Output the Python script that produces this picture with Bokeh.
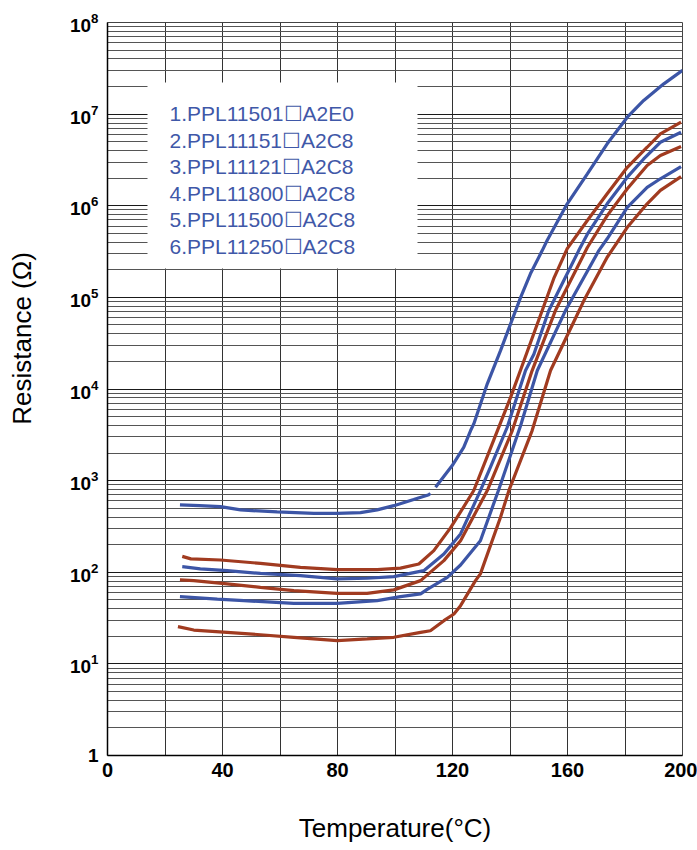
import math
from bokeh.plotting import figure
from bokeh.models import FixedTicker, LogTickFormatter, ColumnDataSource
from bokeh.embed import file_html
from bokeh.resources import INLINE
from bokeh.core.properties import value

nan = float("nan")

# ---------------- data ----------------
legend_labels = ["1.PPL11501\u2610A2E0", "2.PPL11151\u2610A2C8", "3.PPL11121\u2610A2C8",
                 "4.PPL11800\u2610A2C8", "5.PPL11500\u2610A2C8", "6.PPL11250\u2610A2C8"]

x_tick_values = [0, 40, 80, 120, 160, 200]
x_grid_values = [0, 20, 40, 60, 80, 100, 120, 140, 160, 180, 200]
y_tick_values = [1, 10, 100, 1000, 10000, 100000, 1000000, 10000000, 100000000]

t1 = [25.2, 32, 39.3, 46.3, 59, 71.8, 79.9, 88, 93.8, 99.6, 106.5, 111.8, 112.3, nan,
      114.1, 119.9, 123.9, 126.3, 127.4, 132.1, 136.7, 140.2, 143.7, 147.1, 151.2, 152.9,
      159.9, 166.9, 173.8, 180.8, 186.5, 193.5, 200]
r1 = [543, 533, 520, 479, 455, 440, 440, 448, 479, 533, 621, 703, 726, nan,
      845, 1460, 2310, 3520, 4160, 11400, 26200, 51400, 100000, 181000, 324000, 417000,
      1050000, 2230000, 4740000, 9250000, 14100000, 21400000, 30000000]

t2 = [26, 29, 39.3, 53.2, 67.1, 79.9, 93.8, 101.9, 108.3, 113.5, 119.3, 122.8, 127.4,
      134.4, 140.2, 144.5, 151.2, 155.2, 159.9, 166.9, 173.8, 180.8, 187.7, 192.3, 199.5]
r2 = [149, 140, 136, 125, 113, 107, 107, 111, 123, 172, 305, 455, 780,
      2800, 8100, 19000, 72000, 160000, 340000, 690000, 1350000, 2630000, 4350000, 6100000, 8200000]

t3 = [26, 32.3, 41.6, 53.2, 67.1, 79.9, 90.3, 99.6, 110, 117, 122.8, 129.7, 133.2, 139,
      145.4, 148.3, 153.5, 155.2, 163.9, 166.9, 173.8, 180.8, 186.5, 192.3, 199.5]
r3 = [115, 109, 104, 97, 92, 84.5, 86, 89.5, 104, 158, 262, 778, 1400, 3800,
      15900, 24000, 72000, 92000, 324000, 490000, 1050000, 2050000, 3240000, 4930000, 6350000]

t4 = [25.2, 30, 41.6, 53.2, 64.8, 79.9, 90.3, 99.6, 108.9, 117, 122.8, 132.1, 140.8,
      147.7, 155.8, 166.9, 173.8, 180.8, 187.7, 192.3, 199.5]
r4 = [82.4, 81, 74.5, 68.4, 62.9, 58.9, 58.9, 64.2, 81, 134, 221, 778, 3520,
      15900, 71800, 350000, 780000, 1530000, 2750000, 3530000, 4430000]

t5 = [25.2, 38.2, 47.4, 64.8, 79.9, 93.8, 101.9, 108.9, 111.2, 118.2, 122.8, 129.7,
      136.1, 143.7, 149.5, 159.3, 170.9, 173.8, 180.8, 187.7, 192.3, 199.5]
r5 = [54.2, 51, 49, 45.8, 45.8, 49, 54.2, 58, 65, 88, 120, 221,
      800, 4000, 15900, 71800, 324000, 436000, 960000, 1590000, 1970000, 2680000]

t6 = [24.5, 30, 41.6, 53.2, 64.8, 79.9, 90.3, 99.6, 108.9, 112.3, 117, 120.5, 122.8, 128,
      129.7, 136.7, 139.6, 147.7, 154.1, 163.4, 165.7, 173.8, 180.8, 187.7, 192.3, 199.5]
r6 = [25.5, 23.4, 22.1, 20.8, 19.5, 17.9, 18.7, 19.5, 22.1, 23, 29.6, 35, 43.2, 81,
      96, 398, 778, 3520, 15900, 65000, 92200, 274000, 582000, 1050000, 1470000, 2080000]

BLUE = "#3c55a6"
BROWN = "#a13b20"
series = [(t1, r1, BLUE), (t2, r2, BROWN), (t3, r3, BLUE),
          (t4, r4, BROWN), (t5, r5, BLUE), (t6, r6, BROWN)]

# ---------------- layout (canvas pixels of the plot frame) ----------------
W, H = 697, 850
FL, FR, FT, FB = 107, 682, 22, 755
X0, X1 = 0, 200
Y0, Y1 = 1, 1e8


def px_x(px):
    return X0 + (px - FL) / (FR - FL) * (X1 - X0)


def px_y(py):
    ly = math.log10(Y1) - (py - FT) / (FB - FT) * (math.log10(Y1) - math.log10(Y0))
    return 10 ** ly


p = figure(width=W, height=H, x_range=(X0, X1), y_range=(Y0, Y1), y_axis_type="log",
           output_backend="svg", toolbar_location=None,
           min_border_left=FL, min_border_right=W - FR, min_border_top=FT,
           min_border_bottom=H - FB)
p.background_fill_color = "white"
p.border_fill_color = "white"
p.outline_line_color = "#444444"

# grids
p.xgrid.ticker = FixedTicker(ticks=x_grid_values)
p.xgrid.grid_line_color = "#333333"
p.xgrid.grid_line_width = 1

minor = [m * t for t in y_tick_values[:-1] for m in range(2, 10)]
p.ygrid.ticker = FixedTicker(ticks=y_tick_values, minor_ticks=minor)
p.ygrid.grid_line_color = "#1a1a1a"
p.ygrid.grid_line_width = 1
p.ygrid.minor_grid_line_color = "#555555"
p.ygrid.minor_grid_line_width = 1

# axes
p.xaxis.ticker = FixedTicker(ticks=x_tick_values)
p.yaxis.ticker = FixedTicker(ticks=y_tick_values, minor_ticks=[])
p.yaxis.formatter = LogTickFormatter(min_exponent=1)
for ax in (p.xaxis, p.yaxis):
    ax.axis_line_color = "black"
    ax.axis_line_width = 1.5
    ax.major_tick_in = 0
    ax.major_tick_out = 0
    ax.minor_tick_in = 0
    ax.minor_tick_out = 0
    ax.major_label_text_font = "Liberation Sans"
    ax.major_label_text_font_style = "bold"
    ax.major_label_text_color = "black"
    ax.axis_label_text_font = "Liberation Sans"
    ax.axis_label_text_font_style = "normal"
    ax.axis_label_text_font_size = "26px"
    ax.axis_label_text_color = "black"
p.yaxis.major_label_text_font_size = "19px"
p.xaxis.major_label_text_font_size = "20px"
p.yaxis.major_label_standoff = 9
p.xaxis.major_label_standoff = 7

p.xaxis.axis_label = "Temperature(\u00b0C)"
p.xaxis.axis_label_standoff = 33

# leading no-break spaces move the rotated title up, as in the reference
p.yaxis.axis_label = "\u00a0" * 14 + "Resistance (\u03a9)"
p.yaxis.axis_label_standoff = 30

# white legend panel covering the grid
p.quad(left=px_x(147), right=px_x(417), top=px_y(82), bottom=px_y(268),
       fill_color="white", line_color=None)

# curves
for t, r, c in series:
    p.line(t, r, line_color=c, line_width=3.2)

# legend text
leg_y_px = [113 + 26.6 * i for i in range(len(legend_labels))]
src = ColumnDataSource(dict(x=[px_x(169)] * len(legend_labels),
                            y=[px_y(v) for v in leg_y_px],
                            text=legend_labels))
p.text(x="x", y="y", text="text", source=src, text_font=value("Liberation Sans"),
       text_font_size="21px", text_color="#3f58a8", text_baseline="middle",
       text_align="left")

open("out.html", "w").write(file_html(p, INLINE))
